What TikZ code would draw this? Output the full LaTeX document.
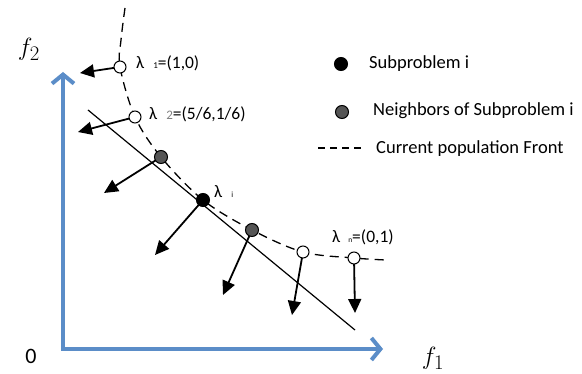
\documentclass[tikz,border=0pt]{standalone}
\usepackage{fontspec}
\setmainfont{Carlito}
\usetikzlibrary{arrows.meta}
\definecolor{axisblue}{RGB}{91,141,200}
\definecolor{nbgray}{RGB}{85,85,85}
\begin{document}
\begin{tikzpicture}[x=1pt,y=-1pt,
  axis/.style={draw=axisblue,line width=4pt,-{Straight Barb[length=9pt,width=22pt,line width=4pt]}},
  front/.style={draw=black,line width=1.3pt,dash pattern=on 9pt off 6pt},
  dir/.style={draw=black,line width=1.8pt,-{Triangle[length=14pt,width=13pt]}},
  openpt/.style={circle,draw=black,line width=1pt,fill=white,minimum size=12pt,inner sep=0pt},
  subpt/.style={circle,draw=black,line width=1pt,fill=black,minimum size=13pt,inner sep=0pt},
  nbpt/.style={circle,draw=black,line width=1pt,fill=nbgray,minimum size=13pt,inner sep=0pt},
  lab/.style={anchor=base west,inner sep=0pt,font=\fontsize{17.5}{20}\selectfont},
  leg/.style={anchor=base west,inner sep=0pt,font=\fontsize{18.5}{21}\selectfont}
]
\useasboundingbox (0,0) rectangle (582,374);
% axes
\coordinate (O) at (63,349);
\coordinate (ytip) at (63,72);
\coordinate (xtip) at (383,349);
\draw[axis] (63,351) -- (ytip);
\draw[axis] (61,349) -- (xtip);
\node[font=\fontsize{28}{30}\selectfont] (f2) at (29,49) {$f_2$};
\node[font=\fontsize{28}{30}\selectfont] (f1) at (433,358) {$f_1$};
\node[font=\fontsize{22}{24}\selectfont\rmfamily] (zero) at (31,356) {0};
% front curve
\draw[front] plot[smooth,tension=0.55] coordinates {(125,8) (121,40) (120,67) (135,117) (161,157) (203,200) (252,230) (303,252) (354,258) (386,260)};
% straight line
\coordinate (la) at (88,110);
\coordinate (lb) at (355,330);
\draw[black,line width=1.2pt] (la) -- (lb);
% direction arrows
\coordinate (t1) at (80,73);
\coordinate (t2) at (78,132);
\coordinate (t3) at (104,193);
\coordinate (ti) at (155,255);
\coordinate (t4) at (223,295);
\coordinate (t5) at (292,315);
\coordinate (tn) at (355,313);
\coordinate (a1) at (120,67);
\coordinate (a2) at (135,117);
\coordinate (a3) at (161,157);
\coordinate (ai) at (203,200);
\coordinate (a4) at (252,230);
\coordinate (a5) at (303,252);
\coordinate (an) at (354,258);
\draw[dir] (a1) -- (t1);
\draw[dir] (a2) -- (t2);
\draw[dir] (a3) -- (t3);
\draw[dir] (ai) -- (ti);
\draw[dir] (a4) -- (t4);
\draw[dir] (a5) -- (t5);
\draw[dir] (an) -- (tn);
% points
\node[openpt] (p1) at (a1) {};
\node[openpt] (p2) at (a2) {};
\node[nbpt] (q1) at (a3) {};
\node[subpt] (pi) at (ai) {};
\node[nbpt] (q2) at (a4) {};
\node[openpt] (p5) at (a5) {};
\node[openpt] (pn) at (an) {};
% labels
\node[lab] (l1) at (136,69) {λ\hspace{9pt}{\fontsize{9}{10}\selectfont 1}=(1,0)};
\node[lab] (l2) at (149,120) {λ\hspace{9pt}{\fontsize{13}{14}\selectfont\color{gray}2}=(5/6,1/6)};
\node[lab] (li) at (214,198) {λ\hspace{9pt}{\fontsize{8}{9}\selectfont i}};
\node[lab] (ln) at (332,243) {λ\hspace{8pt}{\fontsize{7.5}{8}\selectfont n}=(0,1)};
% legend
\node[subpt] (lg1) at (341,64) {};
\node[leg] (lt1) at (369,69) {Subproblem i};
\node[nbpt] (lg2) at (342,112) {};
\node[leg] (lt2) at (373,116) {Neighbors of Subproblem i};
\coordinate (ld1) at (318,148);
\coordinate (ld2) at (363,148);
\draw[front,dash pattern=on 7pt off 5pt] (ld1) -- (ld2);
\node[leg] (lt3) at (376,154) {Current population Front};
\end{tikzpicture}
\end{document}
